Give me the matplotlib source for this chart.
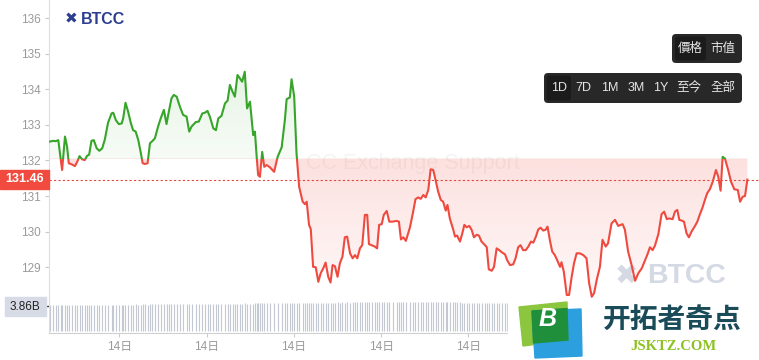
import numpy as np
import matplotlib.pyplot as plt
from matplotlib.colors import to_rgb
from matplotlib.patches import Polygon, Rectangle, FancyBboxPatch

plt.rcParams['font.family'] = ['Liberation Sans', 'Noto Sans CJK TC', 'DejaVu Sans']

# time of day (hours from start of chart) and price
hours = [
    0.00, 0.11, 0.20, 0.29, 0.37, 0.42, 0.52, 0.59, 0.65, 0.75,
    0.86, 0.94, 1.02, 1.11, 1.20, 1.28, 1.35, 1.43, 1.51, 1.61,
    1.70, 1.80, 1.89, 2.00, 2.12, 2.18, 2.27, 2.37, 2.47, 2.52,
    2.60, 2.69, 2.78, 2.86, 2.95, 3.04, 3.12, 3.19, 3.27, 3.36,
    3.44, 3.52, 3.61, 3.72, 3.81, 3.92, 4.01, 4.09, 4.18, 4.26,
    4.36, 4.47, 4.58, 4.70, 4.79, 4.87, 5.02, 5.12, 5.24, 5.33,
    5.42, 5.50, 5.62, 5.71, 5.79, 5.90, 6.02, 6.11, 6.19, 6.28,
    6.36, 6.45, 6.53, 6.61, 6.70, 6.78, 6.88, 6.99, 7.05, 7.11,
    7.16, 7.22, 7.30, 7.37, 7.45, 7.56, 7.71, 7.83, 7.97, 8.08,
    8.14, 8.25, 8.31, 8.40, 8.48, 8.57, 8.69, 8.77, 8.83, 8.91,
    8.97, 9.05, 9.14, 9.23, 9.31, 9.40, 9.48, 9.57, 9.65, 9.72,
    9.80, 9.89, 9.97, 10.06, 10.14, 10.22, 10.32, 10.41, 10.49, 10.57,
    10.66, 10.74, 10.83, 10.91, 10.97, 11.06, 11.17, 11.25, 11.32, 11.41,
    11.48, 11.58, 11.67, 11.78, 11.92, 12.00, 12.07, 12.15, 12.24, 12.38,
    12.49, 12.57, 12.66, 12.75, 12.84, 12.92, 13.01, 13.09, 13.18, 13.26,
    13.35, 13.44, 13.52, 13.61, 13.67, 13.75, 13.87, 13.93, 14.00, 14.10,
    14.18, 14.25, 14.33, 14.42, 14.50, 14.58, 14.67, 14.75, 14.84, 14.96,
    15.02, 15.09, 15.19, 15.27, 15.36, 15.45, 15.55, 15.65, 15.72, 15.82,
    15.93, 16.01, 16.10, 16.18, 16.27, 16.36, 16.45, 16.54, 16.62, 16.71,
    16.79, 16.87, 16.96, 17.04, 17.11, 17.19, 17.27, 17.36, 17.44, 17.54,
    17.59, 17.67, 17.77, 17.85, 17.94, 18.02, 18.11, 18.22, 18.34, 18.45,
    18.54, 18.63, 18.71, 18.80, 18.91, 19.00, 19.11, 19.19, 19.31, 19.43,
    19.54, 19.69, 19.77, 19.88, 20.00, 20.12, 20.23, 20.35, 20.46, 20.55,
    20.63, 20.72, 20.80, 20.92, 21.03, 21.12, 21.21, 21.29, 21.41, 21.49,
    21.57, 21.64, 21.72, 21.80, 21.89, 21.97, 22.06, 22.18, 22.26, 22.35,
    22.44, 22.52, 22.60, 22.69, 22.79, 22.90, 22.98, 23.06, 23.13, 23.21,
    23.32, 23.42, 23.53, 23.65, 23.73, 23.82, 23.90, 23.98]

prices = [
    132.53, 132.55, 132.54, 132.57, 132.06, 131.73, 132.67, 132.39, 131.92, 131.89,
    131.84, 131.96, 132.12, 132.03, 132.01, 132.13, 132.16, 132.55, 132.57, 132.34,
    132.27, 132.34, 132.59, 133.06, 133.32, 133.34, 133.13, 133.02, 133.04, 133.18,
    133.62, 133.37, 133.06, 132.85, 132.81, 132.57, 132.24, 131.92, 131.90, 131.92,
    132.48, 132.54, 132.62, 132.95, 133.18, 133.42, 133.02, 133.37, 133.74, 133.84,
    133.79, 133.51, 133.28, 133.23, 132.81, 132.95, 133.08, 133.09, 133.32, 133.34,
    133.39, 133.23, 132.90, 132.85, 133.18, 133.25, 133.60, 133.68, 134.12, 133.93,
    133.79, 134.40, 134.31, 134.21, 134.49, 133.46, 133.65, 132.71, 132.81, 132.10,
    131.59, 131.54, 132.24, 131.82, 131.87, 131.81, 131.68, 132.10, 132.37, 133.14,
    133.72, 133.77, 134.28, 133.79, 132.20, 131.26, 130.84, 130.77, 130.84, 130.19,
    130.07, 129.01, 129.00, 128.59, 128.83, 128.97, 129.13, 128.73, 128.57, 129.06,
    129.03, 128.73, 129.11, 129.30, 129.84, 129.86, 129.39, 129.25, 129.34, 129.25,
    129.53, 129.62, 130.47, 130.47, 129.65, 129.62, 129.58, 129.53, 130.19, 130.21,
    130.47, 130.58, 130.28, 130.28, 130.30, 130.28, 129.78, 129.84, 129.74, 130.12,
    130.56, 130.91, 130.96, 130.92, 131.03, 130.96, 131.17, 131.75, 131.73, 131.45,
    131.12, 130.89, 130.84, 130.59, 130.75, 130.37, 130.05, 129.86, 129.89, 129.72,
    129.95, 130.19, 130.12, 130.16, 130.05, 129.84, 129.91, 129.89, 129.72, 129.62,
    129.56, 128.94, 128.90, 129.01, 129.53, 129.48, 129.41, 129.36, 129.20, 129.06,
    129.08, 129.25, 129.56, 129.62, 129.48, 129.48, 129.58, 129.72, 129.69, 129.86,
    130.06, 130.11, 130.03, 130.05, 130.14, 129.76, 129.44, 129.34, 129.20, 129.01,
    129.14, 128.87, 128.22, 128.22, 128.73, 129.11, 129.39, 129.39, 129.34, 129.25,
    128.55, 128.17, 128.27, 128.64, 129.01, 129.77, 129.58, 129.67, 130.23, 130.33,
    130.16, 130.21, 130.05, 129.44, 129.06, 128.62, 128.83, 128.97, 129.19, 129.37,
    129.56, 129.48, 129.60, 129.93, 130.49, 130.56, 130.35, 130.37, 130.35, 130.56,
    130.61, 130.33, 130.31, 130.28, 129.95, 129.84, 130.00, 130.16, 130.28, 130.49,
    130.68, 130.89, 131.08, 131.19, 131.40, 131.73, 131.54, 131.15, 132.10, 132.05,
    131.73, 131.40, 131.19, 131.17, 130.84, 130.98, 131.00, 131.46]

# volume in billions, one bar per price point
volumes = [
    4.02, 4.04, 4.01, 4.03, 4.05, 4.02, 4.00, 4.04, 4.03, 4.01, 4.02, 4.05, 4.04, 4.02, 4.03, 4.01, 4.04, 4.06, 4.03, 4.02,
    4.05, 4.04, 4.07, 4.03, 4.06, 4.08, 4.05, 4.06, 4.04, 4.07, 4.06, 4.05, 4.08, 4.06, 4.09, 4.07, 4.08, 4.10, 4.09, 4.08,
    4.10, 4.12, 4.09, 4.13, 4.11, 4.14, 4.12, 4.10, 4.15, 4.13, 4.12, 4.16, 4.14, 4.15, 4.13, 4.17, 4.16, 4.14, 4.18, 4.16,
    4.18, 4.16, 4.20, 4.18, 4.19, 4.22, 4.19, 4.21, 4.20, 4.23, 4.22, 4.20, 4.24, 4.22, 4.25, 4.23, 4.24, 4.22, 4.26, 4.25,
    4.26, 4.28, 4.25, 4.29, 4.27, 4.28, 4.31, 4.27, 4.30, 4.29, 4.32, 4.31, 4.28, 4.33, 4.31, 4.34, 4.30, 4.33, 4.32, 4.35,
    4.34, 4.32, 4.36, 4.35, 4.38, 4.33, 4.37, 4.36, 4.39, 4.38, 4.36, 4.40, 4.39, 4.42, 4.39, 4.41, 4.38, 4.42, 4.44, 4.41,
    4.43, 4.45, 4.42, 4.46, 4.44, 4.47, 4.45, 4.48, 4.46, 4.49, 4.47, 4.50, 4.48, 4.51, 4.49, 4.52, 4.50, 4.53, 4.51, 4.54,
    4.52, 4.55, 4.53, 4.51, 4.54, 4.52, 4.50, 4.53, 4.51, 4.49, 4.52, 4.50, 4.48, 4.51, 4.49, 4.47, 4.50, 4.48, 4.46, 4.49,
    4.37, 4.35, 4.38, 4.36, 4.34, 4.37, 4.35, 4.33, 4.36, 4.34, 4.32, 4.35, 4.33, 4.31, 4.34, 4.32, 4.30, 4.33, 4.31, 4.29,
    4.32, 4.30, 4.28, 4.31, 4.29, 4.27, 4.30, 4.28, 4.26, 4.29, 4.27, 4.25, 4.28, 4.26, 4.24, 4.27, 4.25, 4.23, 4.26, 4.24,
    4.22, 4.25, 4.23, 4.21, 4.24, 4.22, 4.20, 4.23, 4.21, 4.19, 4.22, 4.20, 4.18, 4.21, 4.19, 4.17, 4.20, 4.18, 4.16, 4.19,
    4.17, 4.15, 4.18, 4.16, 4.14, 4.17, 4.15, 4.13, 4.16, 4.14, 4.12, 4.15, 4.13, 4.11, 4.14, 4.12, 4.10, 4.13, 4.11, 4.09,
    4.12, 4.10, 4.08, 4.11, 4.09, 4.07, 4.10, 4.08, 4.06, 4.09, 4.07, 4.05, 4.08, 4.06, 4.04, 4.07, 4.05, 4.03, 4.06, 4.04,
    4.02, 4.05, 4.03, 4.01, 4.04, 3.98, 3.92, 3.86]

base_price = 132.05
last_price = 131.46
last_volume = 3.86
price_ticks = [129, 130, 131, 132, 133, 134, 135, 136]
time_ticks = [2.39, 5.39, 8.39, 11.39, 14.39]
time_labels = ['14日'] * len(time_ticks)
range_buttons = ['1D', '7D', '1M', '3M', '1Y', '至今', '全部']
mode_buttons = ['價格', '市值']

green = '#36a52a'
red = '#ef4a3f'

W, H = 759, 360
fig = plt.figure(figsize=(W / 100, H / 100), dpi=100, facecolor='white')


def frame(x0, y0, x1, y1):
    # pixel box (top-left origin) -> figure rect
    return [x0 / W, 1 - y1 / H, (x1 - x0) / W, (y1 - y0) / H]


def overlay(z):
    a = fig.add_axes([0, 0, 1, 1], zorder=z)
    a.set_xlim(0, W)
    a.set_ylim(H, 0)
    a.axis('off')
    return a


back = overlay(0)

# ---- price pane ----
ax = fig.add_axes(frame(49, 0, 759, 300), zorder=1)
ax.patch.set_alpha(0)
xlim = (-0.03, 24.38)
ylim = (136.506 - 300 / 35.6, 136.506)

clip = Polygon([(hours[0], base_price)] + list(zip(hours, prices)) + [(hours[-1], base_price)],
               closed=True, facecolor='none', edgecolor='none')
ax.add_patch(clip)

grad = np.zeros((256, 1, 4))
grad[:, 0, :3] = to_rgb(green)
grad[:, 0, 3] = np.linspace(0.04, 0.19, 256)
im_g = ax.imshow(grad, extent=[hours[0], hours[-1], base_price, ylim[1]],
                 origin='lower', aspect='auto', interpolation='bilinear', zorder=1)
im_g.set_clip_path(clip)

grad_r = np.zeros((256, 1, 4))
grad_r[:, 0, :3] = to_rgb(red)
grad_r[:, 0, 3] = np.linspace(0.03, 0.17, 256)
im_r = ax.imshow(grad_r, extent=[hours[0], hours[-1], ylim[0], base_price],
                 origin='lower', aspect='auto', interpolation='bilinear', zorder=1)
im_r.set_clip_path(clip)

line_up, = ax.plot(hours, prices, color=green, lw=1.5, zorder=3, solid_joinstyle='round')
line_dn, = ax.plot(hours, prices, color=red, lw=1.5, zorder=3, solid_joinstyle='round')
line_up.set_clip_path(Rectangle((xlim[0], base_price), 30, 20, transform=ax.transData))
line_dn.set_clip_path(Rectangle((xlim[0], base_price - 20), 30, 20, transform=ax.transData))

ax.axhline(last_price, color='#e0483e', lw=0.8, ls=(0, (2, 2)), zorder=2)

ax.set_xlim(*xlim)
ax.set_ylim(*ylim)
ax.set_xticks([])
ax.set_yticks(price_ticks)
ax.tick_params(axis='y', length=3, pad=3, color='#c8c8c8', labelcolor='#9a9a9a', labelsize=8.5)
for s in ['top', 'right', 'bottom']:
    ax.spines[s].set_visible(False)
ax.spines['left'].set_color('#dedede')

# ---- volume pane ----
vax = fig.add_axes(frame(49, 296, 759, 333), zorder=1)
vax.patch.set_alpha(0)
vax.vlines(hours, 0, volumes, colors='#c3c8d3', lw=0.8)
vax.set_xlim(*xlim)
vax.set_ylim(-0.309, 5.40)
vax.set_yticks([last_volume], [''])
vax.tick_params(axis='y', length=3, width=1, color='#333333')
vax.set_xticks(time_ticks, time_labels)
vax.tick_params(axis='x', length=3, color='#cccccc', labelcolor='#9a9a9a', labelsize=8.5, pad=2.5)
for s in ['top', 'right']:
    vax.spines[s].set_visible(False)
vax.spines['left'].set_color('#dedede')
vax.spines['bottom'].set_color('#d0d0d0')
vax.spines['bottom'].set_linestyle((0, (1, 1)))

# ---- background watermarks ----
back.text(413, 163, 'CC Exchange Support', fontsize=15.5, color='#000000', alpha=0.045,
          ha='center', va='center')
back.text(626, 276, '✖', fontsize=20, color='#d4d9e4', ha='center', va='center',
          family=['DejaVu Sans'])
back.text(647, 276, 'BTCC', fontsize=20.5, color='#d4d9e4', fontweight='bold',
          ha='left', va='center')

# ---- foreground widgets ----
front = overlay(5)

front.text(71, 19, '✖', fontsize=11, color='#2c3e8f', ha='center', va='center',
           family=['DejaVu Sans'])
front.text(81, 19, 'BTCC', fontsize=11.5, color='#2c3e8f', fontweight='bold',
           ha='left', va='center')

front.add_patch(Rectangle((0, 170), 49, 19, color='#f04b3e'))
front.text(24.5, 179.5, f'{last_price:.2f}', color='white', fontsize=9, fontweight='bold',
           ha='center', va='center')

front.add_patch(Rectangle((5, 297), 41, 19, color='#d6dbe6'))
front.text(25, 306.5, f'{last_volume:.2f}B', color='#222222', fontsize=8.5,
           ha='center', va='center')

front.add_patch(FancyBboxPatch((672, 34), 70, 29, boxstyle='round,pad=0,rounding_size=4',
                               fc='#282828', ec='none'))
front.add_patch(FancyBboxPatch((675, 36.5), 31, 24, boxstyle='round,pad=0,rounding_size=3',
                               fc='#1b1b1b', ec='none'))
for x, lab in zip([690.5, 723], mode_buttons):
    front.text(x, 49, lab, color='#e6e6e6', fontsize=9, ha='center', va='center')

front.add_patch(FancyBboxPatch((544, 73), 198, 30, boxstyle='round,pad=0,rounding_size=4',
                               fc='#282828', ec='none'))
front.add_patch(FancyBboxPatch((546.5, 75.5), 24.5, 25, boxstyle='round,pad=0,rounding_size=3',
                               fc='#1b1b1b', ec='none'))
for x, lab in zip([559, 583, 610, 636, 661, 689, 723], range_buttons):
    front.text(x, 88, lab, color='#e6e6e6', fontsize=9, ha='center', va='center')

# site logo bottom right
front.add_patch(Rectangle((508, 300), 251, 60, color='white'))
front.add_patch(Polygon([(519, 307), (567, 302), (568, 340), (523, 346)], color='#8cc63f'))
front.add_patch(Polygon([(532, 311), (581, 309), (582, 356), (535, 358)], color='#2c9fdf'))
front.add_patch(Polygon([(532, 311), (567, 308.5), (568, 340), (533.5, 343)], color='#1f8f3c'))
front.text(548, 319, 'B', color='white', fontsize=18, fontweight='bold', style='italic',
           ha='center', va='center')
front.text(672, 321, '开拓者奇点', color='#1a4b58', fontsize=20, fontweight='bold',
           ha='center', va='center', family=['Noto Sans CJK SC', 'DejaVu Sans'])
front.text(673, 347, 'JSKTZ.COM', color='#8cc21f', fontsize=10.5, fontweight='bold',
           ha='center', va='center', family=['Liberation Serif', 'DejaVu Serif'])

fig.savefig('out.png', dpi=100, facecolor='white')
